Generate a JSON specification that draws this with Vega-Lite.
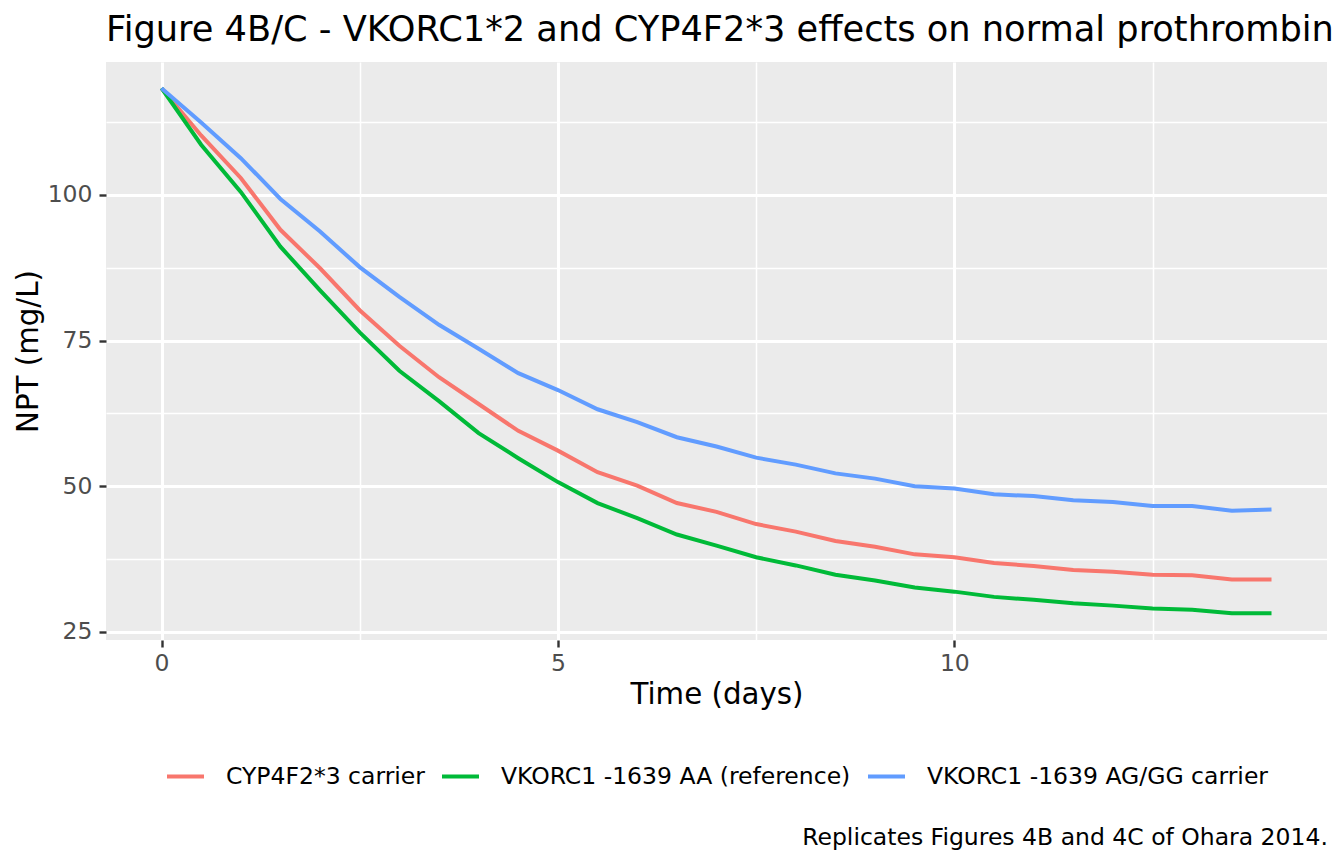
{
  "$schema": "https://vega.github.io/schema/vega-lite/v6.json",
  "background": "white",
  "padding": {"left": 14, "top": 12, "right": 16, "bottom": 10},
  "title": {
    "text": "Replicates Figures 4B and 4C of Ohara 2014.",
    "orient": "bottom",
    "anchor": "end",
    "fontSize": 23.5,
    "font": "DejaVu Sans",
    "fontWeight": "normal",
    "color": "black",
    "offset": 38,
    "dx": -6
  },
  "vconcat": [
    {
      "width": 1221,
      "height": 578,
      "title": {
        "text": "Figure 4B/C - VKORC1*2 and CYP4F2*3 effects on normal prothrombin",
        "anchor": "start",
        "frame": "group",
        "fontSize": 35.2,
        "font": "DejaVu Sans",
        "fontWeight": "normal",
        "color": "black",
        "offset": 14
      },
      "data": {
        "values": [
          {"t": 0, "g": "CYP4F2*3 carrier", "npt": 118.3},
          {"t": 0.5, "g": "CYP4F2*3 carrier", "npt": 110.2},
          {"t": 1, "g": "CYP4F2*3 carrier", "npt": 102.9},
          {"t": 1.5, "g": "CYP4F2*3 carrier", "npt": 94.0},
          {"t": 2, "g": "CYP4F2*3 carrier", "npt": 87.4},
          {"t": 2.5, "g": "CYP4F2*3 carrier", "npt": 80.2},
          {"t": 3, "g": "CYP4F2*3 carrier", "npt": 74.1},
          {"t": 3.5, "g": "CYP4F2*3 carrier", "npt": 68.7},
          {"t": 4, "g": "CYP4F2*3 carrier", "npt": 64.1},
          {"t": 4.5, "g": "CYP4F2*3 carrier", "npt": 59.5},
          {"t": 5, "g": "CYP4F2*3 carrier", "npt": 56.1},
          {"t": 5.5, "g": "CYP4F2*3 carrier", "npt": 52.4},
          {"t": 6, "g": "CYP4F2*3 carrier", "npt": 50.1},
          {"t": 6.5, "g": "CYP4F2*3 carrier", "npt": 47.1},
          {"t": 7, "g": "CYP4F2*3 carrier", "npt": 45.6},
          {"t": 7.5, "g": "CYP4F2*3 carrier", "npt": 43.5},
          {"t": 8, "g": "CYP4F2*3 carrier", "npt": 42.2},
          {"t": 8.5, "g": "CYP4F2*3 carrier", "npt": 40.6},
          {"t": 9, "g": "CYP4F2*3 carrier", "npt": 39.6},
          {"t": 9.5, "g": "CYP4F2*3 carrier", "npt": 38.3},
          {"t": 10, "g": "CYP4F2*3 carrier", "npt": 37.8},
          {"t": 10.5, "g": "CYP4F2*3 carrier", "npt": 36.8},
          {"t": 11, "g": "CYP4F2*3 carrier", "npt": 36.3},
          {"t": 11.5, "g": "CYP4F2*3 carrier", "npt": 35.6},
          {"t": 12, "g": "CYP4F2*3 carrier", "npt": 35.3},
          {"t": 12.5, "g": "CYP4F2*3 carrier", "npt": 34.8},
          {"t": 13, "g": "CYP4F2*3 carrier", "npt": 34.7},
          {"t": 13.5, "g": "CYP4F2*3 carrier", "npt": 34.0},
          {"t": 14, "g": "CYP4F2*3 carrier", "npt": 34.0},
          {"t": 0, "g": "VKORC1 -1639 AA (reference)", "npt": 118.3},
          {"t": 0.5, "g": "VKORC1 -1639 AA (reference)", "npt": 108.6},
          {"t": 1, "g": "VKORC1 -1639 AA (reference)", "npt": 100.5},
          {"t": 1.5, "g": "VKORC1 -1639 AA (reference)", "npt": 91.1},
          {"t": 2, "g": "VKORC1 -1639 AA (reference)", "npt": 83.6},
          {"t": 2.5, "g": "VKORC1 -1639 AA (reference)", "npt": 76.4},
          {"t": 3, "g": "VKORC1 -1639 AA (reference)", "npt": 69.8},
          {"t": 3.5, "g": "VKORC1 -1639 AA (reference)", "npt": 64.6},
          {"t": 4, "g": "VKORC1 -1639 AA (reference)", "npt": 59.1},
          {"t": 4.5, "g": "VKORC1 -1639 AA (reference)", "npt": 54.8},
          {"t": 5, "g": "VKORC1 -1639 AA (reference)", "npt": 50.7},
          {"t": 5.5, "g": "VKORC1 -1639 AA (reference)", "npt": 47.1},
          {"t": 6, "g": "VKORC1 -1639 AA (reference)", "npt": 44.5},
          {"t": 6.5, "g": "VKORC1 -1639 AA (reference)", "npt": 41.7},
          {"t": 7, "g": "VKORC1 -1639 AA (reference)", "npt": 39.8},
          {"t": 7.5, "g": "VKORC1 -1639 AA (reference)", "npt": 37.8},
          {"t": 8, "g": "VKORC1 -1639 AA (reference)", "npt": 36.4},
          {"t": 8.5, "g": "VKORC1 -1639 AA (reference)", "npt": 34.8},
          {"t": 9, "g": "VKORC1 -1639 AA (reference)", "npt": 33.8},
          {"t": 9.5, "g": "VKORC1 -1639 AA (reference)", "npt": 32.6},
          {"t": 10, "g": "VKORC1 -1639 AA (reference)", "npt": 31.9},
          {"t": 10.5, "g": "VKORC1 -1639 AA (reference)", "npt": 31.0},
          {"t": 11, "g": "VKORC1 -1639 AA (reference)", "npt": 30.5},
          {"t": 11.5, "g": "VKORC1 -1639 AA (reference)", "npt": 29.9},
          {"t": 12, "g": "VKORC1 -1639 AA (reference)", "npt": 29.5},
          {"t": 12.5, "g": "VKORC1 -1639 AA (reference)", "npt": 29.0},
          {"t": 13, "g": "VKORC1 -1639 AA (reference)", "npt": 28.8},
          {"t": 13.5, "g": "VKORC1 -1639 AA (reference)", "npt": 28.2},
          {"t": 14, "g": "VKORC1 -1639 AA (reference)", "npt": 28.2},
          {"t": 0, "g": "VKORC1 -1639 AG/GG carrier", "npt": 118.3},
          {"t": 0.5, "g": "VKORC1 -1639 AG/GG carrier", "npt": 112.4},
          {"t": 1, "g": "VKORC1 -1639 AG/GG carrier", "npt": 106.3},
          {"t": 1.5, "g": "VKORC1 -1639 AG/GG carrier", "npt": 99.3},
          {"t": 2, "g": "VKORC1 -1639 AG/GG carrier", "npt": 93.7},
          {"t": 2.5, "g": "VKORC1 -1639 AG/GG carrier", "npt": 87.6},
          {"t": 3, "g": "VKORC1 -1639 AG/GG carrier", "npt": 82.5},
          {"t": 3.5, "g": "VKORC1 -1639 AG/GG carrier", "npt": 77.7},
          {"t": 4, "g": "VKORC1 -1639 AG/GG carrier", "npt": 73.6},
          {"t": 4.5, "g": "VKORC1 -1639 AG/GG carrier", "npt": 69.4},
          {"t": 5, "g": "VKORC1 -1639 AG/GG carrier", "npt": 66.5},
          {"t": 5.5, "g": "VKORC1 -1639 AG/GG carrier", "npt": 63.2},
          {"t": 6, "g": "VKORC1 -1639 AG/GG carrier", "npt": 61.0},
          {"t": 6.5, "g": "VKORC1 -1639 AG/GG carrier", "npt": 58.4},
          {"t": 7, "g": "VKORC1 -1639 AG/GG carrier", "npt": 56.8},
          {"t": 7.5, "g": "VKORC1 -1639 AG/GG carrier", "npt": 54.9},
          {"t": 8, "g": "VKORC1 -1639 AG/GG carrier", "npt": 53.7},
          {"t": 8.5, "g": "VKORC1 -1639 AG/GG carrier", "npt": 52.2},
          {"t": 9, "g": "VKORC1 -1639 AG/GG carrier", "npt": 51.3},
          {"t": 9.5, "g": "VKORC1 -1639 AG/GG carrier", "npt": 50.0},
          {"t": 10, "g": "VKORC1 -1639 AG/GG carrier", "npt": 49.6},
          {"t": 10.5, "g": "VKORC1 -1639 AG/GG carrier", "npt": 48.6},
          {"t": 11, "g": "VKORC1 -1639 AG/GG carrier", "npt": 48.3},
          {"t": 11.5, "g": "VKORC1 -1639 AG/GG carrier", "npt": 47.6},
          {"t": 12, "g": "VKORC1 -1639 AG/GG carrier", "npt": 47.3},
          {"t": 12.5, "g": "VKORC1 -1639 AG/GG carrier", "npt": 46.6},
          {"t": 13, "g": "VKORC1 -1639 AG/GG carrier", "npt": 46.6},
          {"t": 13.5, "g": "VKORC1 -1639 AG/GG carrier", "npt": 45.8},
          {"t": 14, "g": "VKORC1 -1639 AG/GG carrier", "npt": 46.0}
        ]
      },
      "mark": {"type": "line", "strokeWidth": 4, "clip": true},
      "encoding": {
        "x": {
          "field": "t",
          "type": "quantitative",
          "title": "Time (days)",
          "scale": {"domain": [-0.7, 14.7], "nice": false, "zero": false},
          "axis": {
            "values": [0, 2.5, 5, 7.5, 10, 12.5],
            "labelExpr": "datum.value % 5 === 0 ? datum.label : ''",
            "gridWidth": {"condition": {"test": "datum.value % 5 === 0", "value": 3}, "value": 1.5},
            "tickOpacity": {"condition": {"test": "datum.value % 5 === 0", "value": 1}, "value": 0}
          }
        },
        "y": {
          "field": "npt",
          "type": "quantitative",
          "title": "NPT (mg/L)",
          "scale": {"domain": [23.6, 122.8], "nice": false, "zero": false},
          "axis": {
            "values": [25, 37.5, 50, 62.5, 75, 87.5, 100, 112.5],
            "labelExpr": "datum.value % 25 === 0 ? datum.label : ''",
            "labelPadding": 7,
            "titlePadding": 4,
            "gridWidth": {"condition": {"test": "datum.value % 25 === 0", "value": 3}, "value": 1.5},
            "tickOpacity": {"condition": {"test": "datum.value % 25 === 0", "value": 1}, "value": 0}
          }
        },
        "color": {
          "field": "g",
          "type": "nominal",
          "scale": {
            "domain": ["CYP4F2*3 carrier", "VKORC1 -1639 AA (reference)", "VKORC1 -1639 AG/GG carrier"],
            "range": ["#F8766D", "#00BA38", "#619CFF"]
          },
          "legend": {
            "title": null,
            "orient": "bottom",
            "direction": "horizontal",
            "symbolType": "stroke",
            "symbolSize": 1369,
            "symbolStrokeWidth": 4,
            "labelFontSize": 23.5,
            "labelFont": "DejaVu Sans",
            "labelColor": "black",
            "labelLimit": 1000,
            "labelOffset": 20,
            "columnPadding": 9,
            "offset": 46
          }
        }
      }
    }
  ],
  "config": {
    "view": {"fill": "#EBEBEB", "stroke": null},
    "font": "DejaVu Sans",
    "axis": {
      "domain": false,
      "gridColor": "white",
      "tickColor": "#333333",
      "tickWidth": 2.4,
      "tickSize": 7,
      "labelFont": "DejaVu Sans",
      "labelFontSize": 23.5,
      "labelColor": "#4D4D4D",
      "labelPadding": 4,
      "titleFont": "DejaVu Sans",
      "titleFontSize": 29.3,
      "titleFontWeight": "normal",
      "titleColor": "black"
    },
    "axisX": {"titlePadding": 6},
    "legend": {"layout": {"bottom": {"anchor": "middle"}}}
  }
}
